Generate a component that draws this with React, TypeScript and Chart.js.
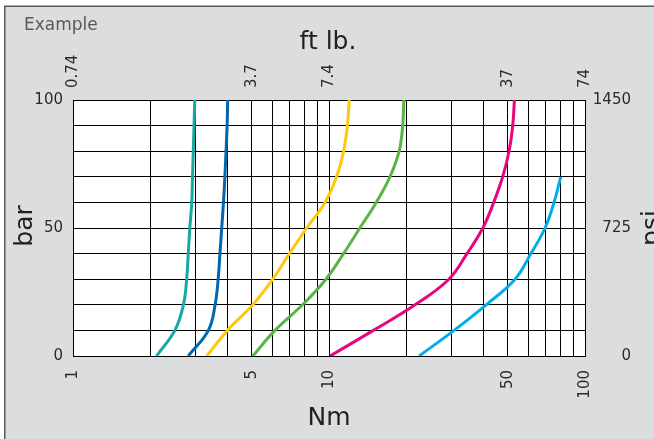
import React, { useEffect, useRef } from "react";
import { Chart, registerables } from "chart.js";

Chart.register(...registerables);

// ---- Data ----
const pressureBar = [0, 10, 20, 30, 40, 50, 60, 70, 80, 90, 100];
const cyanPressureBar = [0, 10, 20, 30, 40, 50, 60, 70];

const tealNm = [2.12, 2.5, 2.7, 2.78, 2.82, 2.86, 2.91, 2.93, 2.95, 2.97, 2.99];
const blueNm = [2.82, 3.38, 3.59, 3.69, 3.75, 3.81, 3.87, 3.92, 3.96, 4.0, 4.02];
const yellowNm = [3.33, 4.01, 5.04, 6.03, 7.0, 8.18, 9.65, 10.7, 11.4, 11.8, 12.0];
const greenNm = [5.04, 6.15, 7.88, 9.73, 11.4, 13.2, 15.3, 17.3, 18.8, 19.4, 19.6];
const pinkNm = [10.1, 14.9, 21.7, 29.4, 34.6, 39.9, 44.0, 47.7, 50.5, 52.2, 53.0];
const cyanNm = [22.5, 30.8, 41.1, 53.3, 61.5, 69.8, 75.7, 80.4];

const nmGridTicks = [1, 2, 3, 4, 5, 6, 7, 8, 9, 10, 20, 30, 40, 50, 60, 70, 80, 90, 100];
const nmLabelTicks = [1, 5, 10, 50, 100];
const ftLbLabels = ["0.74", "3.7", "7.4", "37", "74"];
const barGridTicks = [0, 10, 20, 30, 40, 50, 60, 70, 80, 90, 100];
const barLabelTicks = [0, 50, 100];
const psiTicks = [0, 725, 1450];

const seriesDefs = [
  { name: "teal", color: "#16A9A3", nm: tealNm, bar: pressureBar },
  { name: "blue", color: "#0067B1", nm: blueNm, bar: pressureBar },
  { name: "yellow", color: "#FFC80A", nm: yellowNm, bar: pressureBar },
  { name: "green", color: "#5AB547", nm: greenNm, bar: pressureBar },
  { name: "pink", color: "#E6067F", nm: pinkNm, bar: pressureBar },
  { name: "cyan", color: "#00AEEF", nm: cyanNm, bar: cyanPressureBar },
];

const FONT = "DejaVu Sans";
const tickFont = { family: FONT, size: 15 };
const tickColor = "#2b2b2b";

const backgroundPlugin = {
  id: "bgPlugin",
  beforeDraw(chart: any) {
    const { ctx, width, height, chartArea } = chart;
    ctx.save();
    ctx.fillStyle = "#ffffff";
    ctx.fillRect(0, 0, width, height);
    ctx.fillStyle = "#DCDDDF";
    ctx.fillRect(5, 7, width - 5, height - 7);
    ctx.strokeStyle = "#5a5b5d";
    ctx.lineWidth = 1.5;
    ctx.beginPath();
    ctx.moveTo(4.75, height);
    ctx.lineTo(4.75, 6.25);
    ctx.lineTo(width, 6.25);
    ctx.stroke();
    ctx.fillStyle = "#ffffff";
    ctx.fillRect(chartArea.left, chartArea.top, chartArea.right - chartArea.left, chartArea.bottom - chartArea.top);
    ctx.restore();
  },
};

const titlesPlugin = {
  id: "titlesPlugin",
  afterDraw(chart: any) {
    const { ctx } = chart;
    ctx.save();
    ctx.fillStyle = "#58595b";
    ctx.font = `17px "${FONT}"`;
    ctx.textAlign = "left";
    ctx.textBaseline = "alphabetic";
    ctx.fillText("Example", 24, 30);

    ctx.fillStyle = "#231f20";
    ctx.font = `25px "${FONT}"`;
    ctx.textAlign = "center";
    ctx.fillText("ft lb.", 328, 49);
    ctx.fillText("Nm", 329, 425);

    ctx.save();
    ctx.translate(32, 226);
    ctx.rotate(-Math.PI / 2);
    ctx.fillText("bar", 0, 0);
    ctx.restore();

    ctx.save();
    ctx.translate(659, 228);
    ctx.rotate(-Math.PI / 2);
    ctx.fillText("psi", 0, 0);
    ctx.restore();
    ctx.restore();
  },
};

export default function App() {
  const canvasRef = useRef<HTMLCanvasElement | null>(null);

  useEffect(() => {
    const canvas = canvasRef.current;
    if (!canvas) return;
    const chart = new Chart(canvas, {
      type: "scatter",
      data: {
        datasets: seriesDefs.map((s) => ({
          label: s.name,
          data: s.nm.map((v, i) => ({ x: v, y: s.bar[i] })),
          showLine: true,
          borderColor: s.color,
          backgroundColor: s.color,
          borderWidth: 3,
          pointRadius: 0,
          tension: 0.4,
          xAxisID: "x",
          yAxisID: "y",
        })),
      },
      options: {
        responsive: false,
        animation: false,
        devicePixelRatio: 1,
        layout: { padding: { left: 0, right: 23, top: 0, bottom: 0 } },
        plugins: {
          legend: { display: false },
          tooltip: { enabled: false },
        },
        scales: {
          x: {
            type: "logarithmic",
            position: "bottom",
            min: 1,
            max: 100,
            afterBuildTicks: (s: any) => {
              s.ticks = nmGridTicks.map((value) => ({ value }));
            },
            afterFit: (s: any) => {
              s.height = 83;
            },
            ticks: {
              autoSkip: false,
              minRotation: 90,
              maxRotation: 90,
              padding: 14,
              font: tickFont,
              color: tickColor,
              callback: (v: any) => (nmLabelTicks.includes(Number(v)) ? String(v) : ""),
            },
            grid: { color: "#000", lineWidth: 1, drawTicks: false },
            border: { display: true, color: "#000", width: 1 },
          },
          x2: {
            type: "logarithmic",
            position: "top",
            min: 1,
            max: 100,
            afterBuildTicks: (s: any) => {
              s.ticks = nmLabelTicks.map((value) => ({ value }));
            },
            afterFit: (s: any) => {
              s.height = 100;
            },
            ticks: {
              autoSkip: false,
              minRotation: 90,
              maxRotation: 90,
              padding: 12,
              labelOffset: 18,
              font: tickFont,
              color: tickColor,
              callback: (_v: any, i: number) => ftLbLabels[i],
            },
            grid: { display: false, drawTicks: false },
            border: { display: true, color: "#000", width: 1 },
          },
          y: {
            type: "linear",
            position: "left",
            min: 0,
            max: 100,
            afterBuildTicks: (s: any) => {
              s.ticks = barGridTicks.map((value) => ({ value }));
            },
            afterFit: (s: any) => {
              s.width = 73;
            },
            ticks: {
              autoSkip: false,
              padding: 10,
              font: tickFont,
              color: tickColor,
              callback: (v: any) => (barLabelTicks.includes(Number(v)) ? String(v) : ""),
            },
            grid: { color: "#000", lineWidth: 1, drawTicks: false },
            border: { display: true, color: "#000", width: 1 },
          },
          y2: {
            type: "linear",
            position: "right",
            min: 0,
            max: 1450,
            afterBuildTicks: (s: any) => {
              s.ticks = psiTicks.map((value) => ({ value }));
            },
            afterFit: (s: any) => {
              s.width = 46;
            },
            ticks: {
              autoSkip: false,
              crossAlign: "far",
              font: tickFont,
              color: tickColor,
              callback: (v: any) => String(v),
            },
            grid: { display: false, drawTicks: false },
            border: { display: true, color: "#000", width: 1 },
          },
        },
      },
      plugins: [backgroundPlugin, titlesPlugin],
    } as any);
    return () => chart.destroy();
  }, []);

  return (
    <div style={{ position: "absolute", left: 0, top: 0, width: 654, height: 439 }}>
      <canvas ref={canvasRef} width={654} height={439} style={{ display: "block" }} />
    </div>
  );
}
